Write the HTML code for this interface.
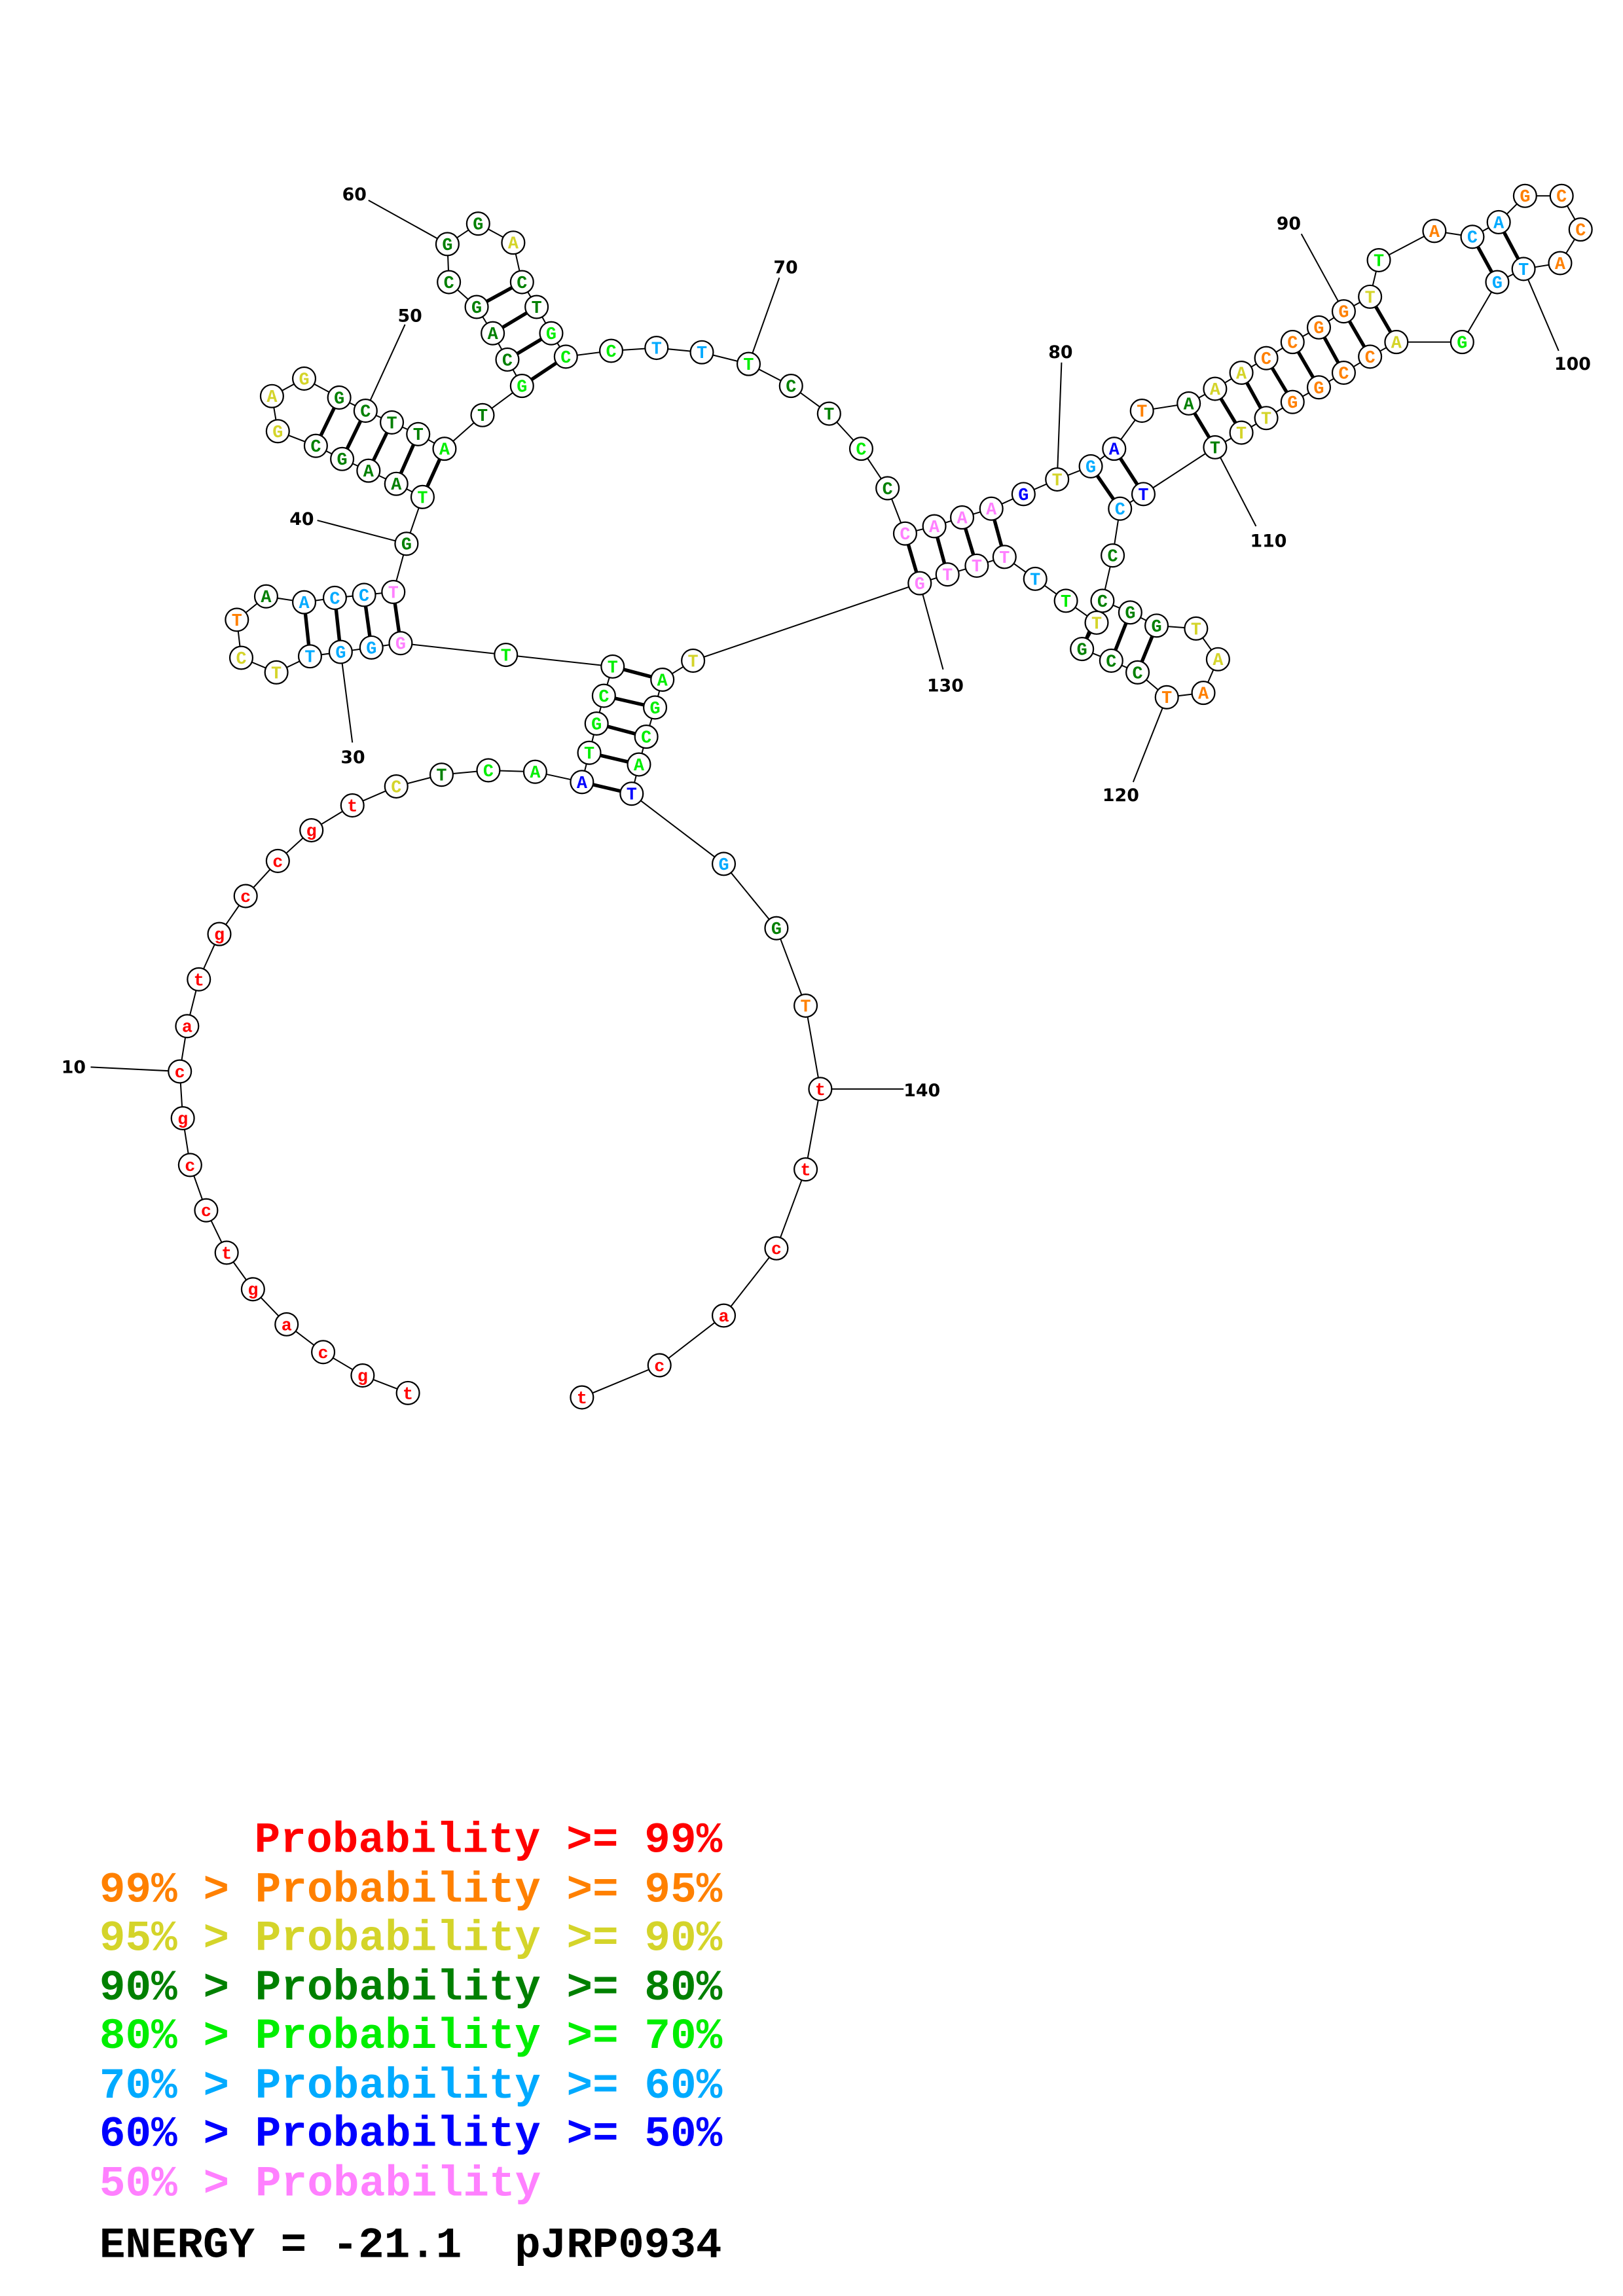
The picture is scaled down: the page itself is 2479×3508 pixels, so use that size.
<!DOCTYPE html>
<html><head><meta charset="utf-8"><style>
html,body{margin:0;padding:0;background:#fff;}
svg{display:block}
.n text{font-family:"Liberation Mono","Courier New","Nimbus Mono PS",monospace;font-weight:bold;font-size:12px;text-anchor:middle}
.lab{font-family:"DejaVu Sans","Liberation Sans",sans-serif;font-weight:bold;font-size:12px;fill:#000}
.leg text{font-family:"Liberation Mono","Courier New","Nimbus Mono PS",monospace;font-weight:bold;font-size:29.5px;white-space:pre}
.r{fill:#ff0000}.o{fill:#ff8000}.y{fill:#d4d42a}.d{fill:#008000}.g{fill:#00ee00}.s{fill:#00aaff}.b{fill:#0000ff}.p{fill:#ff80ff}
</style></head><body>
<svg width="2479" height="3508" viewBox="0 0 1110 1570.75" xmlns="http://www.w3.org/2000/svg">
<rect width="1110" height="1571" fill="#fff"/>
<g stroke="#000" stroke-width="0.9" fill="none">
<polyline points="279,953 248,941 221,925 196,906 173,882 155,857 141,828 130,797 125,765 123,733 128,702 136,670 150,639 168,613 190,589 213,568 241,551 271,538 302,530 334,527 366,528 398,535 403,515 408,495 413,476 419,456 346,448 274,440 254,443 233,446 212,449 189,460 165,450 162,424 182,408 208,412 229,409 249,407 269,405 278,372 289,340 271,331 252,322 234,314 216,305 190,295 186,271 208,259 232,272 250,281 268,289 286,297 304,307 330,284 357,264 347,246 337,228 326,210 307,193 306,167 327,153 351,166 357,193 367,210 377,228 387,244 418,240 449,238 480,241 512,249 541,264 567,283 589,307 607,334 619,365 639,360 658,354 678,348 700,338 723,328 746,319 762,307 781,281 813,276 831,266 849,255 866,245 884,234 902,224 919,213 937,203 943,178 981,158 1007,162 1025,152 1043,134 1068,134 1081,157 1067,180 1042,184 1024,193 1000,234 955,234 937,244 919,255 902,265 884,275 866,286 849,296 831,306 782,338 766,348 761,380 754,411 773,419 791,428 818,430 833,451 823,474 798,477 778,460 760,452 740,444 750,426 729,411 708,396 687,381 668,387 648,393 629,399 474,452 453,465 448,484 442,504 437,523 432,543 495,591 531,635 551,688 561,745 551,800 531,854 495,900 451,934 398,956"/>
<line x1="62" y1="730" x2="123" y2="733"/>
<line x1="241" y1="508" x2="233" y2="446"/>
<line x1="217" y1="356" x2="278" y2="372"/>
<line x1="277" y1="222" x2="250" y2="281"/>
<line x1="252" y1="137" x2="306" y2="167"/>
<line x1="533" y1="190" x2="512" y2="249"/>
<line x1="726" y1="248" x2="723" y2="328"/>
<line x1="890" y1="160" x2="919" y2="213"/>
<line x1="1066" y1="240" x2="1042" y2="184"/>
<line x1="859" y1="360" x2="831" y2="306"/>
<line x1="775" y1="535" x2="798" y2="477"/>
<line x1="645" y1="458" x2="629" y2="399"/>
<line x1="618" y1="745" x2="561" y2="745"/>
</g>
<g stroke="#000" stroke-width="2.4">
<line x1="398" y1="535" x2="432" y2="543"/><line x1="403" y1="515" x2="437" y2="523"/><line x1="408" y1="495" x2="442" y2="504"/><line x1="413" y1="476" x2="448" y2="484"/><line x1="419" y1="456" x2="453" y2="465"/>
<line x1="274" y1="440" x2="269" y2="405"/><line x1="254" y1="443" x2="249" y2="407"/><line x1="233" y1="446" x2="229" y2="409"/><line x1="212" y1="449" x2="208" y2="412"/>
<line x1="289" y1="340" x2="304" y2="307"/><line x1="271" y1="331" x2="286" y2="297"/><line x1="252" y1="322" x2="268" y2="289"/><line x1="234" y1="314" x2="250" y2="281"/><line x1="216" y1="305" x2="232" y2="272"/>
<line x1="357" y1="264" x2="387" y2="244"/><line x1="347" y1="246" x2="377" y2="228"/><line x1="337" y1="228" x2="367" y2="210"/><line x1="326" y1="210" x2="357" y2="193"/>
<line x1="619" y1="365" x2="629" y2="399"/><line x1="639" y1="360" x2="648" y2="393"/><line x1="658" y1="354" x2="668" y2="387"/><line x1="678" y1="348" x2="687" y2="381"/>
<line x1="746" y1="319" x2="766" y2="348"/><line x1="762" y1="307" x2="782" y2="338"/>
<line x1="813" y1="276" x2="831" y2="306"/><line x1="831" y1="266" x2="849" y2="296"/><line x1="849" y1="255" x2="866" y2="286"/><line x1="866" y1="245" x2="884" y2="275"/><line x1="884" y1="234" x2="902" y2="265"/><line x1="902" y1="224" x2="919" y2="255"/><line x1="919" y1="213" x2="937" y2="244"/><line x1="937" y1="203" x2="955" y2="234"/>
<line x1="1007" y1="162" x2="1024" y2="193"/><line x1="1025" y1="152" x2="1042" y2="184"/>
<line x1="754" y1="411" x2="740" y2="444"/><line x1="773" y1="419" x2="760" y2="452"/><line x1="791" y1="428" x2="778" y2="460"/>
</g>
<g class="n" stroke-width="1">
<g fill="#fff" stroke="#000">
<circle cx="279" cy="953" r="7.8"/><circle cx="248" cy="941" r="7.8"/><circle cx="221" cy="925" r="7.8"/><circle cx="196" cy="906" r="7.8"/><circle cx="173" cy="882" r="7.8"/><circle cx="155" cy="857" r="7.8"/><circle cx="141" cy="828" r="7.8"/><circle cx="130" cy="797" r="7.8"/><circle cx="125" cy="765" r="7.8"/><circle cx="123" cy="733" r="7.8"/><circle cx="128" cy="702" r="7.8"/><circle cx="136" cy="670" r="7.8"/><circle cx="150" cy="639" r="7.8"/><circle cx="168" cy="613" r="7.8"/><circle cx="190" cy="589" r="7.8"/><circle cx="213" cy="568" r="7.8"/><circle cx="241" cy="551" r="7.8"/><circle cx="271" cy="538" r="7.8"/><circle cx="302" cy="530" r="7.8"/><circle cx="334" cy="527" r="7.8"/><circle cx="366" cy="528" r="7.8"/><circle cx="398" cy="535" r="7.8"/><circle cx="403" cy="515" r="7.8"/><circle cx="408" cy="495" r="7.8"/><circle cx="413" cy="476" r="7.8"/><circle cx="419" cy="456" r="7.8"/><circle cx="346" cy="448" r="7.8"/><circle cx="274" cy="440" r="7.8"/><circle cx="254" cy="443" r="7.8"/><circle cx="233" cy="446" r="7.8"/><circle cx="212" cy="449" r="7.8"/><circle cx="189" cy="460" r="7.8"/><circle cx="165" cy="450" r="7.8"/><circle cx="162" cy="424" r="7.8"/><circle cx="182" cy="408" r="7.8"/><circle cx="208" cy="412" r="7.8"/><circle cx="229" cy="409" r="7.8"/><circle cx="249" cy="407" r="7.8"/><circle cx="269" cy="405" r="7.8"/><circle cx="278" cy="372" r="7.8"/><circle cx="289" cy="340" r="7.8"/><circle cx="271" cy="331" r="7.8"/><circle cx="252" cy="322" r="7.8"/><circle cx="234" cy="314" r="7.8"/><circle cx="216" cy="305" r="7.8"/><circle cx="190" cy="295" r="7.8"/><circle cx="186" cy="271" r="7.8"/><circle cx="208" cy="259" r="7.8"/><circle cx="232" cy="272" r="7.8"/><circle cx="250" cy="281" r="7.8"/><circle cx="268" cy="289" r="7.8"/><circle cx="286" cy="297" r="7.8"/><circle cx="304" cy="307" r="7.8"/><circle cx="330" cy="284" r="7.8"/><circle cx="357" cy="264" r="7.8"/><circle cx="347" cy="246" r="7.8"/><circle cx="337" cy="228" r="7.8"/><circle cx="326" cy="210" r="7.8"/><circle cx="307" cy="193" r="7.8"/><circle cx="306" cy="167" r="7.8"/><circle cx="327" cy="153" r="7.8"/><circle cx="351" cy="166" r="7.8"/><circle cx="357" cy="193" r="7.8"/><circle cx="367" cy="210" r="7.8"/><circle cx="377" cy="228" r="7.8"/><circle cx="387" cy="244" r="7.8"/><circle cx="418" cy="240" r="7.8"/><circle cx="449" cy="238" r="7.8"/><circle cx="480" cy="241" r="7.8"/><circle cx="512" cy="249" r="7.8"/><circle cx="541" cy="264" r="7.8"/><circle cx="567" cy="283" r="7.8"/><circle cx="589" cy="307" r="7.8"/><circle cx="607" cy="334" r="7.8"/><circle cx="619" cy="365" r="7.8"/><circle cx="639" cy="360" r="7.8"/><circle cx="658" cy="354" r="7.8"/><circle cx="678" cy="348" r="7.8"/><circle cx="700" cy="338" r="7.8"/><circle cx="723" cy="328" r="7.8"/><circle cx="746" cy="319" r="7.8"/><circle cx="762" cy="307" r="7.8"/><circle cx="781" cy="281" r="7.8"/><circle cx="813" cy="276" r="7.8"/><circle cx="831" cy="266" r="7.8"/><circle cx="849" cy="255" r="7.8"/><circle cx="866" cy="245" r="7.8"/><circle cx="884" cy="234" r="7.8"/><circle cx="902" cy="224" r="7.8"/><circle cx="919" cy="213" r="7.8"/><circle cx="937" cy="203" r="7.8"/><circle cx="943" cy="178" r="7.8"/><circle cx="981" cy="158" r="7.8"/><circle cx="1007" cy="162" r="7.8"/><circle cx="1025" cy="152" r="7.8"/><circle cx="1043" cy="134" r="7.8"/><circle cx="1068" cy="134" r="7.8"/><circle cx="1081" cy="157" r="7.8"/><circle cx="1067" cy="180" r="7.8"/><circle cx="1042" cy="184" r="7.8"/><circle cx="1024" cy="193" r="7.8"/><circle cx="1000" cy="234" r="7.8"/><circle cx="955" cy="234" r="7.8"/><circle cx="937" cy="244" r="7.8"/><circle cx="919" cy="255" r="7.8"/><circle cx="902" cy="265" r="7.8"/><circle cx="884" cy="275" r="7.8"/><circle cx="866" cy="286" r="7.8"/><circle cx="849" cy="296" r="7.8"/><circle cx="831" cy="306" r="7.8"/><circle cx="782" cy="338" r="7.8"/><circle cx="766" cy="348" r="7.8"/><circle cx="761" cy="380" r="7.8"/><circle cx="754" cy="411" r="7.8"/><circle cx="773" cy="419" r="7.8"/><circle cx="791" cy="428" r="7.8"/><circle cx="818" cy="430" r="7.8"/><circle cx="833" cy="451" r="7.8"/><circle cx="823" cy="474" r="7.8"/><circle cx="798" cy="477" r="7.8"/><circle cx="778" cy="460" r="7.8"/><circle cx="760" cy="452" r="7.8"/><circle cx="740" cy="444" r="7.8"/><circle cx="750" cy="426" r="7.8"/><circle cx="729" cy="411" r="7.8"/><circle cx="708" cy="396" r="7.8"/><circle cx="687" cy="381" r="7.8"/><circle cx="668" cy="387" r="7.8"/><circle cx="648" cy="393" r="7.8"/><circle cx="629" cy="399" r="7.8"/><circle cx="474" cy="452" r="7.8"/><circle cx="453" cy="465" r="7.8"/><circle cx="448" cy="484" r="7.8"/><circle cx="442" cy="504" r="7.8"/><circle cx="437" cy="523" r="7.8"/><circle cx="432" cy="543" r="7.8"/><circle cx="495" cy="591" r="7.8"/><circle cx="531" cy="635" r="7.8"/><circle cx="551" cy="688" r="7.8"/><circle cx="561" cy="745" r="7.8"/><circle cx="551" cy="800" r="7.8"/><circle cx="531" cy="854" r="7.8"/><circle cx="495" cy="900" r="7.8"/><circle cx="451" cy="934" r="7.8"/><circle cx="398" cy="956" r="7.8"/>
</g>
<g transform="translate(0,4)">
<text x="279" y="953" class="r">t</text><text x="248" y="941" class="r">g</text><text x="221" y="925" class="r">c</text><text x="196" y="906" class="r">a</text><text x="173" y="882" class="r">g</text><text x="155" y="857" class="r">t</text><text x="141" y="828" class="r">c</text><text x="130" y="797" class="r">c</text><text x="125" y="765" class="r">g</text><text x="123" y="733" class="r">c</text><text x="128" y="702" class="r">a</text><text x="136" y="670" class="r">t</text><text x="150" y="639" class="r">g</text><text x="168" y="613" class="r">c</text><text x="190" y="589" class="r">c</text><text x="213" y="568" class="r">g</text><text x="241" y="551" class="r">t</text>
<text x="271" y="538" class="y">C</text><text x="302" y="530" class="d">T</text><text x="334" y="527" class="g">C</text><text x="366" y="528" class="g">A</text><text x="398" y="535" class="b">A</text><text x="403" y="515" class="g">T</text><text x="408" y="495" class="g">G</text><text x="413" y="476" class="g">C</text><text x="419" y="456" class="g">T</text><text x="346" y="448" class="g">T</text><text x="274" y="440" class="p">G</text><text x="254" y="443" class="s">G</text><text x="233" y="446" class="s">G</text><text x="212" y="449" class="s">T</text><text x="189" y="460" class="y">T</text><text x="165" y="450" class="y">C</text><text x="162" y="424" class="o">T</text><text x="182" y="408" class="d">A</text><text x="208" y="412" class="s">A</text><text x="229" y="409" class="s">C</text><text x="249" y="407" class="s">C</text><text x="269" y="405" class="p">T</text><text x="278" y="372" class="d">G</text><text x="289" y="340" class="g">T</text><text x="271" y="331" class="d">A</text><text x="252" y="322" class="d">A</text><text x="234" y="314" class="d">G</text><text x="216" y="305" class="d">C</text><text x="190" y="295" class="y">G</text><text x="186" y="271" class="y">A</text><text x="208" y="259" class="y">G</text><text x="232" y="272" class="d">G</text><text x="250" y="281" class="d">C</text><text x="268" y="289" class="d">T</text><text x="286" y="297" class="d">T</text><text x="304" y="307" class="g">A</text><text x="330" y="284" class="d">T</text><text x="357" y="264" class="g">G</text><text x="347" y="246" class="d">C</text><text x="337" y="228" class="d">A</text><text x="326" y="210" class="d">G</text><text x="307" y="193" class="d">C</text><text x="306" y="167" class="d">G</text><text x="327" y="153" class="d">G</text><text x="351" y="166" class="y">A</text><text x="357" y="193" class="d">C</text><text x="367" y="210" class="d">T</text><text x="377" y="228" class="g">G</text><text x="387" y="244" class="g">C</text><text x="418" y="240" class="g">C</text><text x="449" y="238" class="s">T</text><text x="480" y="241" class="s">T</text><text x="512" y="249" class="g">T</text><text x="541" y="264" class="d">C</text><text x="567" y="283" class="d">T</text><text x="589" y="307" class="g">C</text><text x="607" y="334" class="d">C</text><text x="619" y="365" class="p">C</text><text x="639" y="360" class="p">A</text><text x="658" y="354" class="p">A</text><text x="678" y="348" class="p">A</text><text x="700" y="338" class="b">G</text><text x="723" y="328" class="y">T</text><text x="746" y="319" class="s">G</text><text x="762" y="307" class="b">A</text><text x="781" y="281" class="o">T</text><text x="813" y="276" class="d">A</text><text x="831" y="266" class="y">A</text><text x="849" y="255" class="y">A</text><text x="866" y="245" class="o">C</text><text x="884" y="234" class="o">C</text><text x="902" y="224" class="o">G</text><text x="919" y="213" class="o">G</text><text x="937" y="203" class="y">T</text><text x="943" y="178" class="g">T</text><text x="981" y="158" class="o">A</text><text x="1007" y="162" class="s">C</text><text x="1025" y="152" class="s">A</text><text x="1043" y="134" class="o">G</text><text x="1068" y="134" class="o">C</text><text x="1081" y="157" class="o">C</text><text x="1067" y="180" class="o">A</text><text x="1042" y="184" class="s">T</text><text x="1024" y="193" class="s">G</text><text x="1000" y="234" class="g">G</text><text x="955" y="234" class="y">A</text><text x="937" y="244" class="o">C</text><text x="919" y="255" class="o">C</text><text x="902" y="265" class="o">G</text><text x="884" y="275" class="o">G</text><text x="866" y="286" class="y">T</text><text x="849" y="296" class="y">T</text><text x="831" y="306" class="d">T</text><text x="782" y="338" class="b">T</text><text x="766" y="348" class="s">C</text><text x="761" y="380" class="d">C</text><text x="754" y="411" class="d">C</text><text x="773" y="419" class="d">G</text><text x="791" y="428" class="d">G</text><text x="818" y="430" class="y">T</text><text x="833" y="451" class="y">A</text><text x="823" y="474" class="o">A</text><text x="798" y="477" class="o">T</text><text x="778" y="460" class="d">C</text><text x="760" y="452" class="d">C</text><text x="740" y="444" class="d">G</text><text x="750" y="426" class="y">T</text><text x="729" y="411" class="g">T</text><text x="708" y="396" class="s">T</text><text x="687" y="381" class="p">T</text><text x="668" y="387" class="p">T</text><text x="648" y="393" class="p">T</text><text x="629" y="399" class="p">G</text><text x="474" y="452" class="y">T</text><text x="453" y="465" class="g">A</text><text x="448" y="484" class="g">G</text><text x="442" y="504" class="g">C</text><text x="437" y="523" class="g">A</text><text x="432" y="543" class="b">T</text><text x="495" y="591" class="s">G</text><text x="531" y="635" class="d">G</text><text x="551" y="688" class="o">T</text><text x="561" y="745" class="r">t</text><text x="551" y="800" class="r">t</text><text x="531" y="854" class="r">c</text><text x="495" y="900" class="r">a</text><text x="451" y="934" class="r">c</text><text x="398" y="956" class="r">t</text>
</g>
</g>
<g class="lab">
<text x="42" y="734">10</text><text x="233" y="522">30</text><text x="198" y="359">40</text><text x="272" y="220">50</text><text x="234" y="137">60</text><text x="529" y="187">70</text><text x="717" y="245">80</text><text x="873" y="157">90</text><text x="1063" y="253">100</text><text x="855" y="374">110</text><text x="754" y="548">120</text><text x="634" y="473">130</text><text x="618" y="750">140</text>
</g>
<g class="leg">
<text x="174" y="1267" class="r" textLength="320" lengthAdjust="spacing">Probability &gt;= 99%</text>
<text x="68" y="1301" class="o" textLength="426" lengthAdjust="spacing">99% &gt; Probability &gt;= 95%</text>
<text x="68" y="1334" class="y" textLength="426" lengthAdjust="spacing">95% &gt; Probability &gt;= 90%</text>
<text x="68" y="1368" class="d" textLength="426" lengthAdjust="spacing">90% &gt; Probability &gt;= 80%</text>
<text x="68" y="1401" class="g" textLength="426" lengthAdjust="spacing">80% &gt; Probability &gt;= 70%</text>
<text x="68" y="1435" class="s" textLength="426" lengthAdjust="spacing">70% &gt; Probability &gt;= 60%</text>
<text x="68" y="1468" class="b" textLength="426" lengthAdjust="spacing">60% &gt; Probability &gt;= 50%</text>
<text x="68" y="1502" class="p" textLength="302" lengthAdjust="spacing">50% &gt; Probability</text>
<text x="68" y="1544" fill="#000">ENERGY = -21.1</text>
<text x="352" y="1544" fill="#000">pJRP0934</text>
</g>
</svg>
</body></html>
